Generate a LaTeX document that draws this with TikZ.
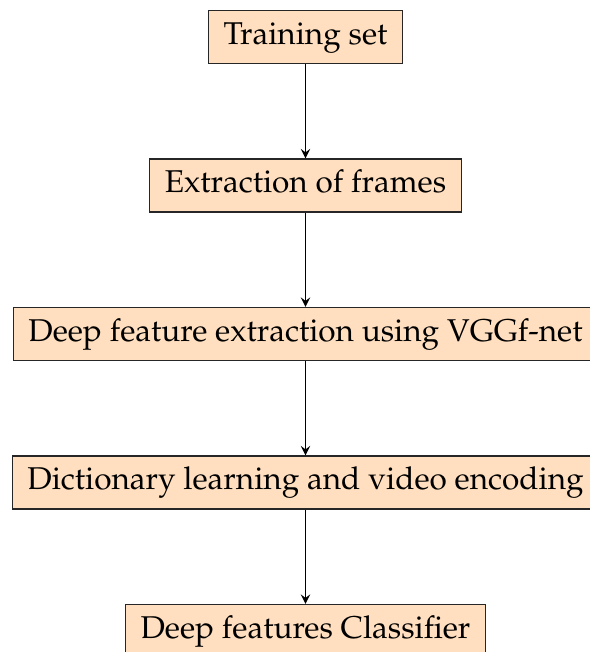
\documentclass[tikz,border=0pt]{standalone}
\usepackage[T1]{fontenc}
\usepackage{mathpazo}
\begin{document}
\begin{tikzpicture}[x=0.33333pt,y=-0.33333pt,
  stage/.style={draw=black!85, line width=0.4pt, fill=orange!25, inner xsep=5pt, inner ysep=0pt,
    minimum height=17.67pt, text height=0.72em, text depth=0.25em,
    font=\fontsize{10.5}{12.5}\selectfont},
  flow/.style={->, >=stealth, line width=0.4pt, black}]
\useasboundingbox (0,0) rectangle (589,652);
\node[stage] (b1) at (305.5,37) {Training set};
\node[stage] (b2) at (305.5,185.5) {Extraction of frames};
\node[stage] (b3) at (305.5,334) {Deep feature extraction using VGGf-net};
\node[stage] (b4) at (305.5,482.5) {Dictionary learning and video encoding};
\node[stage] (b5) at (305.5,631) {Deep features Classifier};
\draw[flow] (b1) -- (b2);
\draw[flow] (b2) -- (b3);
\draw[flow] (b3) -- (b4);
\draw[flow] (b4) -- (b5);
\end{tikzpicture}
\end{document}
